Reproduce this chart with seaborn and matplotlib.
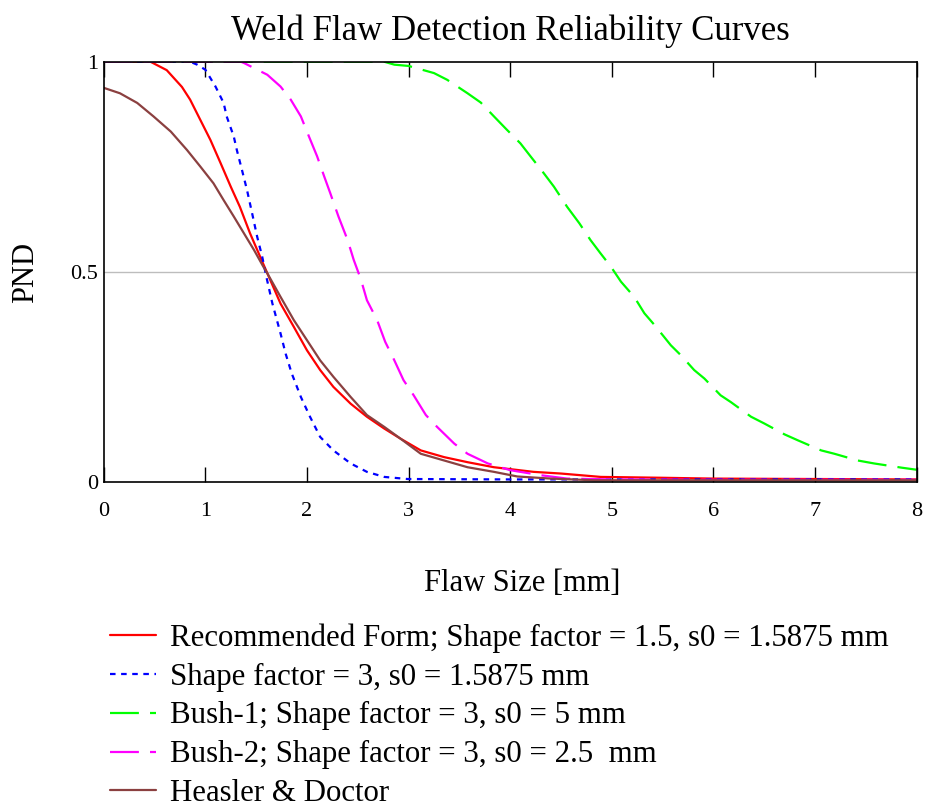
import numpy as np
import pandas as pd
import matplotlib
matplotlib.use("Agg")
import matplotlib.pyplot as plt
import seaborn as sns

# values
rec_x = [0, 0.46, 0.62, 0.77, 0.85, 0.95, 1.05, 1.15, 1.25, 1.34, 1.44, 1.54, 1.61, 1.74, 1.87, 2.00,
         2.13, 2.26, 2.43, 2.59, 2.76, 2.92, 3.12, 3.35, 3.58, 3.84, 4.23, 4.50, 4.89, 5.48, 6.0, 7.0, 8.0]
rec_y = [1.0, 1.0, 0.98, 0.94, 0.91, 0.862, 0.814, 0.759, 0.703, 0.655, 0.592, 0.536, 0.497, 0.425, 0.370, 0.314,
         0.267, 0.227, 0.187, 0.156, 0.128, 0.104, 0.076, 0.060, 0.048, 0.036, 0.025, 0.021, 0.013, 0.011, 0.009, 0.008, 0.007]

sf3_x = [0, 0.85, 0.92, 1.0, 1.10, 1.18, 1.21, 1.28, 1.31, 1.36, 1.41, 1.46, 1.51, 1.56, 1.60, 1.66, 1.74,
         1.79, 1.85, 1.94, 2.03, 2.13, 2.26, 2.43, 2.59, 2.76, 2.99, 4.0, 6.0, 8.0]
sf3_y = [1.0, 1.0, 0.993, 0.981, 0.941, 0.902, 0.870, 0.822, 0.790, 0.743, 0.695, 0.640, 0.584, 0.536, 0.489, 0.425, 0.354,
         0.306, 0.259, 0.203, 0.156, 0.108, 0.076, 0.045, 0.025, 0.013, 0.008, 0.007, 0.007, 0.007]

bush1_x = [0, 2.76, 2.86, 3.0, 3.25, 3.38, 3.58, 3.71, 3.84, 3.96, 4.10, 4.20, 4.33, 4.43, 4.56, 4.68, 4.79, 4.89,
           4.99, 5.09, 5.22, 5.32, 5.42, 5.58, 5.68, 5.81, 5.91, 6.07, 6.17, 6.37, 6.50, 6.70, 6.83, 7.06, 7.19,
           7.42, 7.58, 7.85, 8.0]
bush1_y = [1.0, 1.0, 0.993, 0.990, 0.973, 0.957, 0.925, 0.903, 0.870, 0.840, 0.806, 0.775, 0.735, 0.703, 0.655, 0.616, 0.576, 0.544,
           0.513, 0.477, 0.441, 0.402, 0.374, 0.326, 0.302, 0.267, 0.247, 0.207, 0.191, 0.156, 0.140, 0.114, 0.100, 0.076, 0.068,
           0.052, 0.045, 0.035, 0.030]

bush2_x = [0, 1.35, 1.38, 1.61, 1.74, 1.84, 1.94, 2.02, 2.10, 2.17, 2.23, 2.31, 2.40, 2.46, 2.53, 2.59, 2.69,
           2.77, 2.86, 2.95, 3.05, 3.17, 3.28, 3.45, 3.58, 3.78, 4.0, 4.30, 4.56, 5.0, 6.0, 8.0]
bush2_y = [1.0, 1.0, 0.997, 0.969, 0.941, 0.910, 0.870, 0.822, 0.775, 0.727, 0.687, 0.632, 0.576, 0.529, 0.483, 0.433, 0.386,
           0.334, 0.290, 0.243, 0.207, 0.160, 0.132, 0.092, 0.068, 0.045, 0.029, 0.017, 0.009, 0.007, 0.006, 0.006]

hd_x = [0, 0.16, 0.33, 0.49, 0.66, 0.82, 0.95, 1.08, 1.18, 1.28, 1.38, 1.48, 1.57, 1.61, 1.74, 1.87, 2.00,
        2.13, 2.26, 2.43, 2.59, 2.76, 2.92, 3.12, 3.35, 3.58, 3.84, 4.07, 4.40, 4.83, 6.0, 8.0]
hd_y = [0.938, 0.925, 0.902, 0.870, 0.834, 0.790, 0.751, 0.711, 0.671, 0.632, 0.592, 0.552, 0.513, 0.497, 0.441, 0.386, 0.338,
        0.290, 0.251, 0.203, 0.160, 0.132, 0.104, 0.068, 0.052, 0.036, 0.025, 0.014, 0.009, 0.005, 0.005, 0.005]

labels = ["Recommended Form; Shape factor = 1.5, s0 = 1.5875 mm",
          "Shape factor = 3, s0 = 1.5875 mm",
          "Bush-1; Shape factor = 3, s0 = 5 mm",
          "Bush-2; Shape factor = 3, s0 = 2.5  mm",
          "Heasler & Doctor"]

series = [(rec_x, rec_y), (sf3_x, sf3_y), (bush1_x, bush1_y), (bush2_x, bush2_y), (hd_x, hd_y)]
colors = ["#ff0000", "#0000ff", "#00ff00", "#ff00ff", "#8b4040"]
dashes = [(None, None), (2.5, 2.5), (13, 5), (13, 5), (None, None)]

sns.set_style("white")
plt.rcParams["font.family"] = ["Liberation Serif", "DejaVu Serif"]
plt.rcParams["text.color"] = "black"
plt.rcParams["axes.labelcolor"] = "black"
plt.rcParams["xtick.color"] = "black"
plt.rcParams["ytick.color"] = "black"

fig = plt.figure(figsize=(9.26, 8.08), dpi=100)
ax = fig.add_axes([0.112, 0.403, 0.878, 0.5206])

ax.axhline(0.5, color="#bdbdbd", lw=1.0, zorder=0)

for (xs, ys), lab, c, d in zip(series, labels, colors, dashes):
    df = pd.DataFrame({"size": xs, "PND": ys})
    sns.lineplot(data=df, x="size", y="PND", ax=ax, color=c, lw=1.6, label=lab)
    l = ax.get_lines()[-1]
    if d[0] is not None:
        l.set_dashes(d)

ax.set_xlim(0, 8)
ax.set_ylim(0, 1)
ax.set_xticks(range(9))
ax.set_yticks([0, 0.5, 1])
ax.set_yticklabels(["0", "0.5", "1"])
ax.tick_params(axis="x", direction="in", length=11, width=1.0, top=True, bottom=True,
               labelsize=16, pad=14)
ax.tick_params(axis="y", length=0, labelsize=16, pad=4)
for s in ax.spines.values():
    s.set_color("black")
    s.set_linewidth(1.2)

ax.set_title("Weld Flaw Detection Reliability Curves", fontsize=25, pad=16)
ax.set_xlabel("Flaw Size [mm]", fontsize=22)
ax.xaxis.set_label_coords(0.515, -0.205)
ax.set_ylabel("PND", fontsize=22)
ax.yaxis.set_label_coords(-0.078, 0.5)

handles, labs = ax.get_legend_handles_labels()
ax.get_legend().remove()
fig.legend(handles, labs, loc="upper left", bbox_to_anchor=(0.105, 0.244), frameon=False,
           fontsize=22.2, handlelength=1.5, handletextpad=0.45, labelspacing=0.32, borderaxespad=0)

fig.savefig("out.png", dpi=100)
